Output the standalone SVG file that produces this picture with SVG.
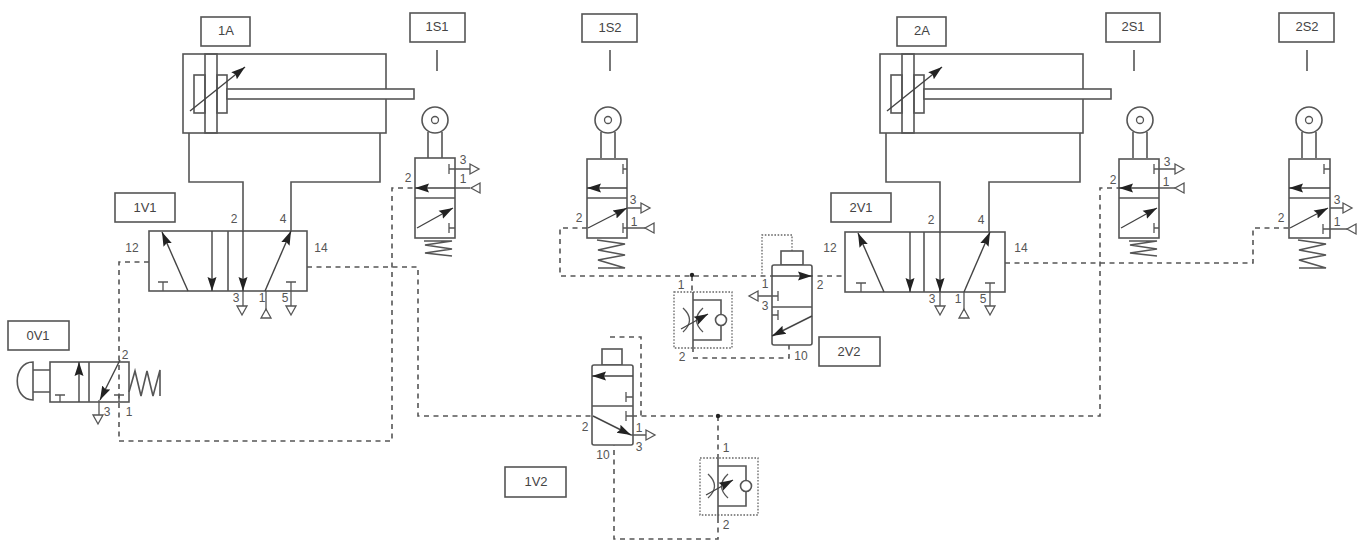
<svg xmlns="http://www.w3.org/2000/svg" xmlns:xlink="http://www.w3.org/1999/xlink" width="1361" height="541" viewBox="0 0 1361 541">
<style>
.s{fill:none;stroke:#555;stroke-width:1.6}
.b{fill:#fff;stroke:#555;stroke-width:1.6}
.t{fill:none;stroke:#555;stroke-width:1.3}
.d{fill:none;stroke:#555;stroke-width:1.6;stroke-dasharray:5 4.5}
.o{fill:none;stroke:#666;stroke-width:1.3;stroke-dasharray:1.6 1.6}
.a{fill:none;stroke:#444;stroke-width:1.4;marker-end:url(#h)}
.l{font:13px "Liberation Sans",Arial,sans-serif;fill:#444;text-anchor:middle}
.n{font:12px "Liberation Sans",Arial,sans-serif;fill:#555;text-anchor:middle}
</style>
<defs>
<marker id="h" markerUnits="userSpaceOnUse" markerWidth="16" markerHeight="12" refX="14" refY="6" orient="auto"><path d="M0 1.5L14 6L0 10.5L2 6z" fill="#222"/></marker>
<path id="td" class="t" d="M-5 0H5L0 9z"/>
<path id="tu" class="t" d="M-5 9H5L0 0z"/>
<path id="tr" class="t" d="M0 -5V5L9 0z"/>
<path id="tl" class="t" d="M9 -5V5L0 0z"/>
<g id="cyl"><rect class="s" x="0" y="0" width="203" height="79"/><rect class="s" x="22" y="0" width="12" height="79"/><rect class="s" x="11" y="21" width="11" height="38"/><rect class="s" x="34" y="21" width="10" height="38"/><rect class="b" x="44" y="35" width="187" height="10"/><path class="a" d="M7 57L62 13"/></g>
<g id="rol"><circle class="s" cx="0" cy="0" r="13"/><circle class="t" cx="0" cy="0" r="3.5"/><path class="s" d="M-7 12V38M7 12V38"/></g>
<g id="fc"><path class="s" d="M0 -10V50M0 -2H28V12M28 24V38H0"/><circle class="s" cx="28" cy="18" r="5.5"/><path class="t" d="M-10 6Q3 18 -10 30M10 6Q-3 18 10 30"/><path class="a" d="M-12 27L15 12"/></g>
</defs>
<g id="connectors">
<path class="s" d="M189 133V182H243V231M380 133V182H291V231"/>
<path class="s" d="M886 133V182H940V232M1080 133V182H989V232"/>
<path class="d" d="M149 262H119V441H392V188H415"/>
<path class="d" d="M307 267H418V416H592M632 416H1100V188H1119"/>
<path class="d" d="M587 228H560V276H845"/>
<path class="d" d="M1005 263H1253V228H1289"/>
<path class="d" d="M610 337H641V416"/>
<path class="d" d="M718 416V458M718 518V539H614V445"/>
<path class="d" d="M692 276V292M693 358H789V345"/>
<path class="o" d="M792 251V235H762V276"/>
<circle cx="692" cy="275" r="2.2" fill="#222"/>
<circle cx="718" cy="416" r="2.2" fill="#222"/>
</g>
<g id="n1A"><rect class="s" x="201" y="17" width="49" height="29"/><text class="l" x="226" y="35">1A</text><use href="#cyl" x="183" y="54"/></g>
<g id="n2A"><rect class="s" x="897" y="17" width="49" height="29"/><text class="l" x="922" y="35">2A</text><use href="#cyl" x="880" y="54"/></g>
<g id="n1V1"><rect class="s" x="115" y="193" width="60" height="29"/><text class="l" x="145" y="212">1V1</text>
<rect class="s" x="149" y="231" width="158" height="60"/><path class="s" d="M228 231V291"/>
<path class="a" d="M188 291L162 232"/><path class="a" d="M212 231V291"/><path class="a" d="M243 231V291"/><path class="a" d="M265 291L291 231"/>
<path class="t" d="M158 282H168M163 282V291M286 282H296M291 282V306M243 291V306M266 291V311"/>
<use href="#td" x="242" y="306"/><use href="#tu" x="266" y="309"/><use href="#td" x="291" y="306"/>
<text class="n" x="132" y="252">12</text><text class="n" x="321" y="252">14</text><text class="n" x="234" y="223">2</text><text class="n" x="283" y="223">4</text><text class="n" x="236" y="302">3</text><text class="n" x="262" y="302">1</text><text class="n" x="285" y="302">5</text></g>
<g id="n2V1"><rect class="s" x="831" y="193" width="60" height="29"/><text class="l" x="861" y="212">2V1</text>
<rect class="s" x="845" y="232" width="160" height="60"/><path class="s" d="M924 232V292"/>
<path class="a" d="M884 292L858 233"/><path class="a" d="M910 232V292"/><path class="a" d="M940 232V292"/><path class="a" d="M964 292L990 232"/>
<path class="t" d="M856 283H866M861 283V292M985 283H995M990 283V306M940 292V306M964 292V311"/>
<use href="#td" x="940" y="306"/><use href="#tu" x="964" y="309"/><use href="#td" x="990" y="306"/>
<text class="n" x="830" y="252">12</text><text class="n" x="1021" y="252">14</text><text class="n" x="931" y="224">2</text><text class="n" x="981" y="224">4</text><text class="n" x="932" y="303">3</text><text class="n" x="958" y="303">1</text><text class="n" x="983" y="303">5</text></g>
<g id="n0V1"><rect class="s" x="8" y="321" width="61" height="29"/><text class="l" x="38" y="340">0V1</text>
<rect class="s" x="50" y="362" width="79" height="40"/><path class="s" d="M89 362V402"/>
<path class="s" d="M33 362C12 362 12 400 33 400ZM33 370H50M33 392H50"/>
<path class="a" d="M79 402V362"/><path class="a" d="M120 360L100 400"/>
<path class="t" d="M55 395H65M60 395V402M114 395H124M119 395V402M99 400V415"/><use href="#td" x="98" y="415"/>
<path class="s" d="M129 392L135 371L141 396L147 371L153 396L160 370V396"/>
<text class="n" x="125" y="359">2</text><text class="n" x="107" y="416">3</text><text class="n" x="129" y="416">1</text></g>
<g id="n1S1"><rect class="s" x="410" y="13" width="55" height="29"/><text class="l" x="437" y="31">1S1</text><path class="s" d="M437 50V71"/>
<use href="#rol" x="435" y="120"/><rect class="s" x="415" y="158" width="40" height="80"/><path class="s" d="M415 198H455"/>
<path class="a" d="M455 188H415"/><path class="a" d="M417 228L453 208"/>
<path class="t" d="M449 164V174M449 169H470M449 223V233M449 228H455M455 188H470"/><use href="#tr" x="470" y="169"/><use href="#tl" x="471" y="188"/>
<path class="s" d="M424 241H452L425 245L452 249L425 253L452 256"/>
<text class="n" x="463" y="164">3</text><text class="n" x="463" y="183">1</text><text class="n" x="408" y="182">2</text></g>
<g id="n1S2"><rect class="s" x="582" y="14" width="55" height="28"/><text class="l" x="610" y="32">1S2</text><path class="s" d="M610 50V71"/>
<use href="#rol" x="608" y="120"/><rect class="s" x="587" y="159" width="40" height="79"/><path class="s" d="M587 198H627"/>
<path class="a" d="M627 188H587"/><path class="a" d="M588 228L627 208"/>
<path class="t" d="M623 164V174M623 169H627M623 223V233M623 228H645M627 208H641"/><use href="#tr" x="641" y="208"/><use href="#tl" x="645" y="228"/>
<path class="s" d="M597 240L625 244L598 250L625 255L598 260L625 268H598"/>
<text class="n" x="633" y="204">3</text><text class="n" x="634" y="226">1</text><text class="n" x="579" y="222">2</text></g>
<g id="n2S1"><rect class="s" x="1106" y="13" width="54" height="29"/><text class="l" x="1133" y="31">2S1</text><path class="s" d="M1134 50V71"/>
<use href="#rol" x="1140" y="120"/><rect class="s" x="1119" y="159" width="40" height="79"/><path class="s" d="M1119 198H1159"/>
<path class="a" d="M1159 188H1119"/><path class="a" d="M1121 228L1157 208"/>
<path class="t" d="M1154 164V174M1154 169H1175M1154 223V233M1154 228H1159M1159 188H1175"/><use href="#tr" x="1175" y="169"/><use href="#tl" x="1175" y="188"/>
<path class="s" d="M1129 241H1157L1130 245L1157 249L1130 253L1157 256"/>
<text class="n" x="1167" y="166">3</text><text class="n" x="1166" y="186">1</text><text class="n" x="1113" y="184">2</text></g>
<g id="n2S2"><rect class="s" x="1279" y="13" width="55" height="29"/><text class="l" x="1307" y="31">2S2</text><path class="s" d="M1307 50V71"/>
<use href="#rol" x="1309" y="120"/><rect class="s" x="1289" y="159" width="41" height="79"/><path class="s" d="M1289 198H1330"/>
<path class="a" d="M1330 188H1289"/><path class="a" d="M1290 228L1328 208"/>
<path class="t" d="M1324 164V174M1324 169H1330M1323 224V234M1323 229H1347M1330 208H1343"/><use href="#tr" x="1343" y="208"/><use href="#tl" x="1347" y="229"/>
<path class="s" d="M1298 240L1326 244L1299 250L1326 255L1299 260L1326 268H1299"/>
<text class="n" x="1337" y="204">3</text><text class="n" x="1337" y="226">1</text><text class="n" x="1281" y="222">2</text></g>
<g id="n1V2"><rect class="s" x="505" y="467" width="61" height="30"/><text class="l" x="536" y="486">1V2</text>
<rect class="s" x="602" y="349" width="20" height="16"/><rect class="b" x="592" y="365" width="41" height="80" rx="2"/><path class="s" d="M592 406H633"/>
<path class="a" d="M633 376H592"/><path class="a" d="M593 416L631 435"/>
<path class="t" d="M626 392V402M626 397H633M626 411V421M626 416H633M631 435H646"/><use href="#tr" x="646" y="435"/>
<text class="n" x="585" y="431">2</text><text class="n" x="639" y="432">1</text><text class="n" x="639" y="451">3</text><text class="n" x="603" y="459">10</text></g>
<g id="n2V2"><rect class="s" x="819" y="337" width="61" height="29"/><text class="l" x="849" y="356">2V2</text>
<rect class="s" x="781" y="251" width="22" height="14"/><rect class="b" x="772" y="265" width="40" height="80" rx="2"/><path class="s" d="M772 307H812"/>
<path class="a" d="M772 276H812"/><path class="a" d="M812 316L772 336"/>
<path class="t" d="M778 291V301M758 296H778M778 310V320M772 315H778"/><use href="#tl" x="749" y="296"/>
<text class="n" x="765" y="288">1</text><text class="n" x="765" y="310">3</text><text class="n" x="820" y="289">2</text><text class="n" x="801" y="360">10</text></g>
<g id="fc1"><rect class="o" x="674" y="292" width="58" height="56"/><use href="#fc" x="693" y="302"/><text class="n" x="681" y="289">1</text><text class="n" x="682" y="361">2</text></g>
<g id="fc2"><rect class="o" x="700" y="458" width="58" height="57"/><use href="#fc" x="718" y="468"/><text class="n" x="726" y="452">1</text><text class="n" x="726" y="529">2</text></g>
</svg>
